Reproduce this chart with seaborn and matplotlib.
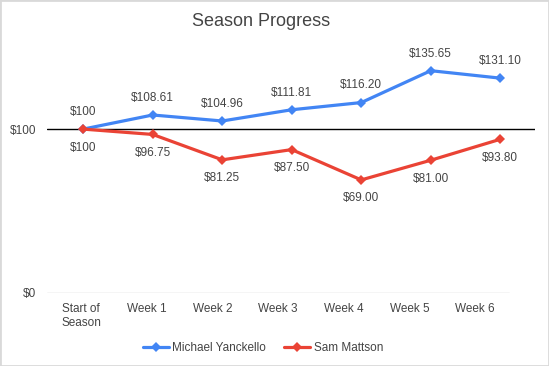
import numpy as np
import pandas as pd
import matplotlib
matplotlib.use("Agg")
import matplotlib.pyplot as plt
import seaborn as sns

categories = ["Start of\nSeason", "Week 1", "Week 2", "Week 3", "Week 4", "Week 5", "Week 6"]
michael = [100, 108.61, 104.96, 111.81, 116.20, 135.65, 131.10]
sam = [100, 96.75, 81.25, 87.50, 69.00, 81.00, 93.80]
michael_labels = ["$100", "$108.61", "$104.96", "$111.81", "$116.20", "$135.65", "$131.10"]
sam_labels = ["$100", "$96.75", "$81.25", "$87.50", "$69.00", "$81.00", "$93.80"]

sns.set_style("white")
plt.rcParams['font.family'] = ['Liberation Sans', 'DejaVu Sans']

text_color = "#444444"
blue = "#4285F4"
red = "#EA4335"

fig = plt.figure(figsize=(5.49, 3.66), dpi=100)
ax = fig.add_axes([0.0856, 0.1995, 0.889, 0.694])

x = np.arange(len(categories))
df = pd.DataFrame({"x": np.concatenate([x, x]),
                   "value": michael + sam,
                   "player": ["Michael Yanckello"] * len(x) + ["Sam Mattson"] * len(x)})

ax.plot([-0.52, 6.13], [0, 0], color="#cccccc", lw=1, zorder=0)
ax.axhline(100, color="black", lw=1, zorder=1)

sns.lineplot(data=df, x="x", y="value", hue="player",
             palette={"Michael Yanckello": blue, "Sam Mattson": red},
             marker="D", markersize=5.5, markeredgewidth=0, linewidth=2.3,
             ax=ax, zorder=3)

for i in range(len(x)):
    ax.annotate(michael_labels[i], (x[i], michael[i]), xytext=(0, 8), textcoords="offset points",
                ha="center", va="bottom", fontsize=8.5, color=text_color)
    ax.annotate(sam_labels[i], (x[i], sam[i]), xytext=(0, -9), textcoords="offset points",
                ha="center", va="top", fontsize=8.5, color=text_color)

ax.set_xlim(-0.52, 6.5)
ax.set_ylim(0, 155)
ax.set_xticks(x * 0.945 - 0.03)
ax.set_xticklabels(categories, fontsize=8.5, color=text_color, linespacing=1.2)
ax.set_yticks([0, 100])
ax.set_yticklabels(["$0", "$100"], fontsize=8.5, color=text_color)
ax.tick_params(axis="both", length=0, pad=7)
ax.tick_params(axis="y", pad=8)
ax.set_xlabel("")
ax.set_ylabel("")
for s in ax.spines.values():
    s.set_visible(False)

handles, labels = ax.get_legend_handles_labels()
ax.legend_.remove()
fig.legend(handles, labels, loc="center", bbox_to_anchor=(0.479, 0.05), ncol=2,
           frameon=False, fontsize=8.5, labelcolor=text_color, handlelength=2.2,
           handletextpad=0.3, columnspacing=1.5)

fig.text(0.476, 0.94, "Season Progress", ha="center", va="center", fontsize=13, color=text_color)

border = plt.Rectangle((0, 0), 1, 1, transform=fig.transFigure, fill=False,
                       edgecolor="#d9d9d9", lw=2)
fig.patches.append(border)

fig.savefig("out.png", dpi=100)
